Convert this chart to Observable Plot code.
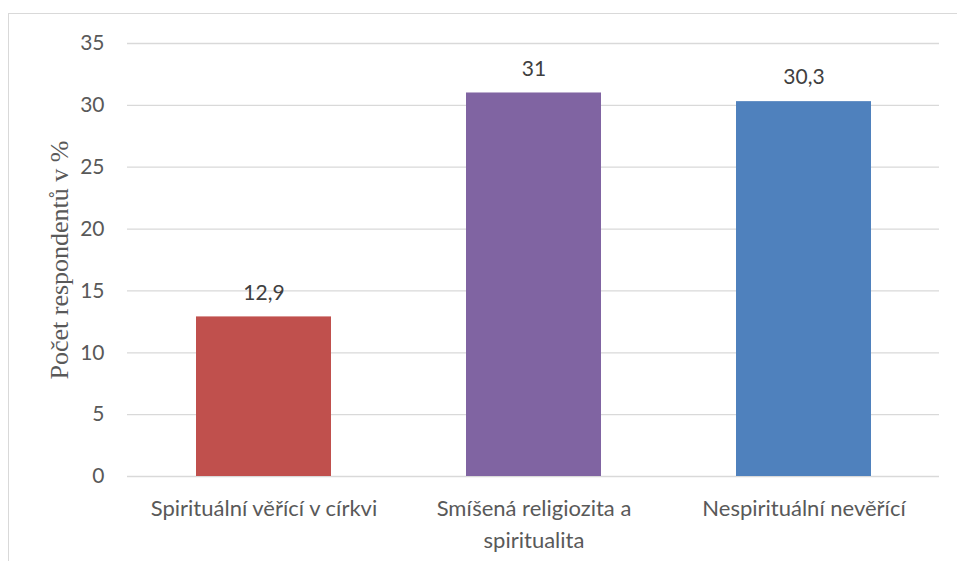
<!DOCTYPE html>
<html>
<head>
<meta charset="utf-8">
<script src="https://cdn.jsdelivr.net/npm/d3@7"></script>
<script src="https://cdn.jsdelivr.net/npm/@observablehq/plot@0.6"></script>
<style>
  body { margin: 0; background: #fff; }
  #wrap { position: relative; width: 957px; height: 561px; overflow: hidden; }
  #frame { position: absolute; left: 8px; top: 13px; width: 1000px; height: 1000px;
           border-left: 1px solid #d9d9d9; border-top: 1px solid #d9d9d9; }
  #chart { position: absolute; left: 0; top: 0; }
</style>
</head>
<body>
<div id="wrap"><div id="frame"></div><div id="chart"></div></div>
<script>
// Respondent groups and their shares (%)
const categories = ["Spirituální věřící v církvi", "Smíšená religiozita a spiritualita", "Nespirituální nevěřící"];
const tickLabels = ["Spirituální věřící v církvi", "Smíšená religiozita a\nspiritualita", "Nespirituální nevěřící"];
const values = [12.9, 31, 30.3];
const valueLabels = ["12,9", "31", "30,3"];
const colors = ["#C0504D", "#8064A2", "#4F81BD"];
const yTicks = [0, 5, 10, 15, 20, 25, 30, 35];
const yTitle = "Počet respondentů v %";

const data = categories.map((c, i) => ({category: c, value: values[i], label: valueLabels[i]}));

const chart = Plot.plot({
  width: 957,
  height: 561,
  marginTop: 43,
  marginBottom: 85,
  marginLeft: 127,
  marginRight: 18,
  style: {fontFamily: "Lato, sans-serif", fontSize: "22px", color: "#595959", background: "transparent"},
  x: {domain: categories, paddingInner: 0.5, paddingOuter: 0.25, label: null},
  y: {domain: [0, 35], label: null},
  color: {domain: categories, range: colors},
  marks: [
    Plot.ruleY(yTicks, {stroke: "#d9d9d9", strokeWidth: 1.3}),
    Plot.barY(data, {x: "category", y: "value", fill: "category"}),
    Plot.text(data, {x: "category", y: "value", text: "label", dy: -24, fill: "#404040", fontSize: 21}),
    Plot.axisY({ticks: yTicks, tickSize: 0, tickPadding: 23, label: null, fontSize: 21}),
    Plot.axisX({
      tickSize: 0, tickPadding: 17, label: null, fontSize: 22, lineHeight: 1.45,
      tickFormat: d => tickLabels[categories.indexOf(d)]
    }),
    Plot.text([yTitle], {
      frameAnchor: "left", dx: -68, rotate: -90, text: d => d, textAnchor: "middle",
      fontFamily: "Liberation Serif, serif", fontSize: 26, fill: "#595959"
    })
  ]
});
document.getElementById("chart").appendChild(chart);
</script>
</body>
</html>
